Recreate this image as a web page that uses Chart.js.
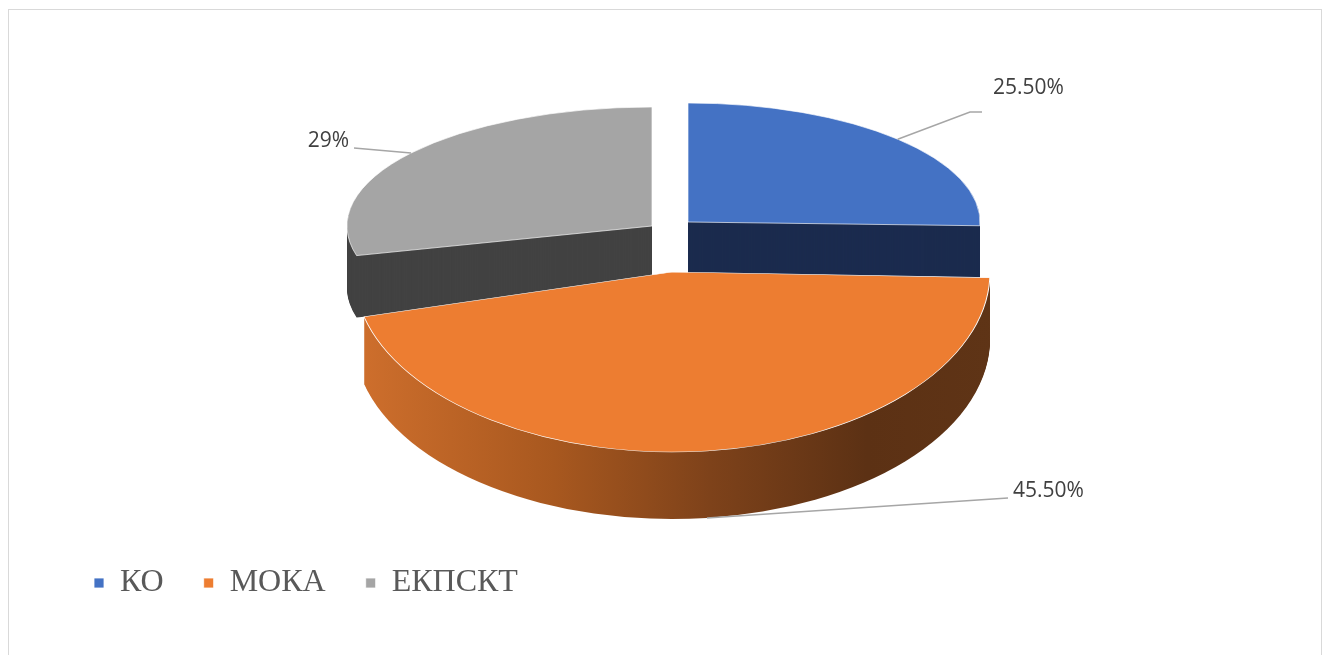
<!DOCTYPE html>
<html>
<head>
<meta charset="utf-8">
<script src="https://cdn.jsdelivr.net/npm/chart.js@4.4.0/dist/chart.umd.min.js"></script>
<style>
  html, body { margin: 0; padding: 0; background: #fff; overflow: hidden; }
  #cadre { position: absolute; left: 8px; top: 9px; width: 1314px; height: 700px; border: 1px solid #d9d9d9; box-sizing: border-box; }
  #zone { position: absolute; left: 0; top: 0; width: 1330px; height: 655px; }
</style>
</head>
<body>
<div id="cadre"></div>
<div id="zone"><canvas id="g1"></canvas></div>
<script>
//Donnees
var categories = ['КО', 'МОКА', 'ЕКПСКТ'];
var valeurs = [25.5, 45.5, 29];

//Styles
var couleurs = ['#4472c4', '#ed7d31', '#a5a5a5'];
var couleursCote = ['#1b2b4e', null, '#424242'];

// vue 3D approximative de chaque part (centre, rayons, epaisseur)
var vues = [
  {cx: 688, cy: 222, rx: 292, ry: 119, prof: 55},
  {cx: 672, cy: 272, rx: 318, ry: 180, prof: 67},
  {cx: 652, cy: 226, rx: 305, ry: 119, prof: 62}
];
// ancrages des etiquettes : coude du trait + position du texte
var etiquettes = [
  {coude: [{x: 970, y: 112}, {x: 982, y: 112}], tx: 993, ty: 88, align: 'left'},
  {coude: [{x: 1008, y: 498}], tx: 1013, ty: 491, align: 'left'},
  {coude: [{x: 354, y: 148}], tx: 349, ty: 141, align: 'right'}
];
var ordreDessin = [0, 2, 1];

function formater(v) {
  return (Number.isInteger(v) ? v : v.toFixed(2)) + '%';
}

function dessinerPart(ctx, arc, v, dy, opts) {
  var R = arc.outerRadius;
  var o = arc.options;
  ctx.save();
  ctx.translate(v.cx, v.cy + dy);
  ctx.scale(v.rx / R, v.ry / R);
  ctx.translate(-arc.x, -arc.y);
  if (opts) arc.options = Object.assign({}, o, opts);
  arc.draw(ctx);
  arc.options = o;
  ctx.restore();
}

function degradeOrange(ctx, arc, v) {
  var R = arc.outerRadius;
  function versX(sx) { return arc.x + (sx - v.cx) * R / v.rx; }
  var g = ctx.createLinearGradient(versX(365), 0, versX(992), 0);
  g.addColorStop(0, '#cd6e2c');
  g.addColorStop(0.3, '#a8581f');
  g.addColorStop(0.55, '#7e421a');
  g.addColorStop(0.8, '#5c3114');
  g.addColorStop(1, '#5f3416');
  return g;
}

var camembert3D = {
  id: 'camembert3D',
  beforeDatasetsDraw: function(chart) {
    var ctx = chart.ctx;
    var meta = chart.getDatasetMeta(0);
    ordreDessin.forEach(function(i) {
      var arc = meta.data[i];
      var v = vues[i];
      var cote = couleursCote[i] || degradeOrange(ctx, arc, v);
      for (var d = v.prof; d >= 1; d--) {
        dessinerPart(ctx, arc, v, d, {backgroundColor: cote, borderColor: cote, borderWidth: 0});
      }
      dessinerPart(ctx, arc, v, 0, null);
    });
    return false;
  },
  afterDraw: function(chart) {
    var ctx = chart.ctx;
    var meta = chart.getDatasetMeta(0);
    ctx.save();
    ctx.strokeStyle = '#a6a6a6';
    ctx.lineWidth = 1.5;
    ctx.fillStyle = '#404040';
    ctx.font = '21px "Open Sans"';
    ctx.textBaseline = 'middle';
    meta.data.forEach(function(arc, i) {
      var v = vues[i];
      var e = etiquettes[i];
      var mid = (arc.startAngle + arc.endAngle) / 2;
      var x0 = v.cx + v.rx * Math.cos(mid);
      var y0 = v.cy + v.ry * Math.sin(mid);
      if (Math.sin(mid) > 0.5) y0 += v.prof;
      ctx.beginPath();
      ctx.moveTo(x0, y0);
      e.coude.forEach(function(p) { ctx.lineTo(p.x, p.y); });
      ctx.stroke();
      ctx.textAlign = e.align;
      ctx.fillText(formater(valeurs[i]), e.tx, e.ty);
    });
    ctx.restore();
  }
};

var graphique = new Chart(document.getElementById('g1'), {
  type: 'pie',
  data: {
    labels: categories,
    datasets: [{
      data: valeurs,
      backgroundColor: couleurs,
      borderColor: '#ffffff',
      borderWidth: 0.8
    }]
  },
  options: {
    responsive: true,
    maintainAspectRatio: false,
    animation: false,
    events: [],
    layout: { padding: { left: 54, bottom: 46, top: 20 } },
    plugins: {
      tooltip: { enabled: false },
      legend: {
        position: 'bottom',
        align: 'start',
        labels: {
          boxWidth: 10,
          boxHeight: 10,
          padding: 40,
          color: '#595959',
          font: { family: '"Liberation Serif", "Times New Roman", serif', size: 32 }
        }
      }
    }
  },
  plugins: [camembert3D]
});
</script>
</body>
</html>
